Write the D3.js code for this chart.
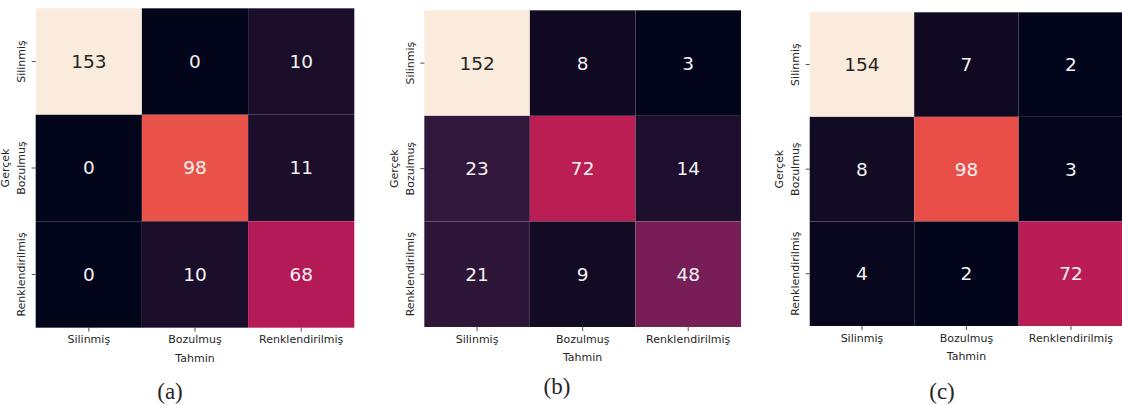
<!DOCTYPE html>
<html>
<head>
<meta charset="utf-8">
<script src="https://cdn.jsdelivr.net/npm/d3@7"></script>
<style>
  body { margin: 0; background: #fff; }
  svg text { font-family: "DejaVu Sans", sans-serif; fill: #262626; }
  .caption { font-family: "Liberation Serif", "DejaVu Serif", serif; }
</style>
</head>
<body>
<div id="chart"></div>
<script>
// class names (rows = true, cols = predicted)
const classes = ["Silinmiş", "Bozulmuş", "Renklendirilmiş"];

// confusion matrices
const matrixA = [[153, 0, 10], [0, 98, 11], [0, 10, 68]];
const matrixB = [[152, 8, 3], [23, 72, 14], [21, 9, 48]];
const matrixC = [[154, 7, 2], [8, 98, 3], [4, 2, 72]];
const captions = ["(a)", "(b)", "(c)"];

// seaborn "rocket" colormap, approximated piecewise
const rocket = d3.piecewise(d3.interpolateRgb, [
    "#03051a", "#35193e", "#701f57", "#ad1759",
    "#e13342", "#f37651", "#f6b48f", "#faebdd"
]);

// where each heatmap sits on the page
const panels = [
    { m: matrixA, left: 35.7, top: 8.3, w: 318.6, h: 319.4, capX: 170, capY: 391 },
    { m: matrixB, left: 424.3, top: 10.3, w: 316.7, h: 316.7, capX: 557, capY: 386 },
    { m: matrixC, left: 809.7, top: 12.3, w: 313.5, h: 313.7, capX: 942, capY: 391 }
];

const svg = d3.select("#chart").append("svg")
    .attr("width", 1122)
    .attr("height", 405);

function luminance(c) {
    const rgb = d3.rgb(c);
    const f = v => {
        v /= 255;
        return v <= 0.03928 ? v / 12.92 : Math.pow((v + 0.055) / 1.055, 2.4);
    };
    return 0.2126 * f(rgb.r) + 0.7152 * f(rgb.g) + 0.0722 * f(rgb.b);
}

panels.forEach(function (p, i) {
    const cells = [];
    p.m.forEach((row, r) => row.forEach((v, c) => cells.push({ r: classes[r], c: classes[c], v: v })));

    const x = d3.scaleBand().domain(classes).range([0, p.w]);
    const y = d3.scaleBand().domain(classes).range([0, p.h]);
    const color = d3.scaleSequential(rocket)
        .domain([d3.min(cells, d => d.v), d3.max(cells, d => d.v)]);

    const g = svg.append("g")
        .attr("transform", "translate(" + p.left + "," + p.top + ")");

    g.selectAll(".cell")
        .data(cells)
        .enter().append("rect")
        .attr("class", "cell")
        .attr("x", d => x(d.c))
        .attr("y", d => y(d.r))
        .attr("width", x.bandwidth())
        .attr("height", y.bandwidth())
        .attr("fill", d => color(d.v))
        .attr("stroke", "rgba(255,255,255,0.05)")
        .attr("stroke-width", 0.5);

    // annotations
    g.selectAll(".annot")
        .data(cells)
        .enter().append("text")
        .attr("class", "annot")
        .attr("x", d => x(d.c) + x.bandwidth() / 2)
        .attr("y", d => y(d.r) + y.bandwidth() / 2)
        .attr("text-anchor", "middle")
        .attr("dominant-baseline", "central")
        .style("font-size", "18.5px")
        .style("fill", d => luminance(color(d.v)) > 0.408 ? "#262626" : "#f2f2f2")
        .text(d => d.v);

    // x axis
    const xAxis = g.append("g")
        .attr("transform", "translate(0," + p.h + ")")
        .call(d3.axisBottom(x).tickSize(4).tickPadding(4));
    xAxis.select(".domain").remove();
    xAxis.selectAll("line").attr("stroke", "#262626").attr("stroke-width", 0.8);
    xAxis.selectAll("text")
        .attr("font-family", null)
        .style("font-size", "11px")
        .style("fill", "#262626");

    // y axis, labels vertical
    const yAxis = g.append("g")
        .call(d3.axisLeft(y).tickSize(4));
    yAxis.select(".domain").remove();
    yAxis.selectAll("line").attr("stroke", "#262626").attr("stroke-width", 0.8);
    yAxis.selectAll("text")
        .attr("font-family", null)
        .attr("x", null)
        .attr("dy", null)
        .attr("transform", "translate(-14,0) rotate(-90)")
        .attr("text-anchor", "middle")
        .attr("dominant-baseline", "central")
        .style("font-size", "11px")
        .style("fill", "#262626");

    // axis titles
    g.append("text")
        .attr("x", p.w / 2)
        .attr("y", p.h + 31)
        .attr("text-anchor", "middle")
        .attr("dominant-baseline", "central")
        .style("font-size", "11px")
        .text("Tahmin");

    g.append("text")
        .attr("transform", "translate(-30," + (p.h / 2) + ") rotate(-90)")
        .attr("text-anchor", "middle")
        .attr("dominant-baseline", "central")
        .style("font-size", "11px")
        .text("Gerçek");

    // sub-figure caption
    svg.append("text")
        .attr("class", "caption")
        .attr("x", p.capX)
        .attr("y", p.capY)
        .attr("text-anchor", "middle")
        .attr("dominant-baseline", "central")
        .style("font-size", "23px")
        .text(captions[i]);
});
</script>
</body>
</html>
